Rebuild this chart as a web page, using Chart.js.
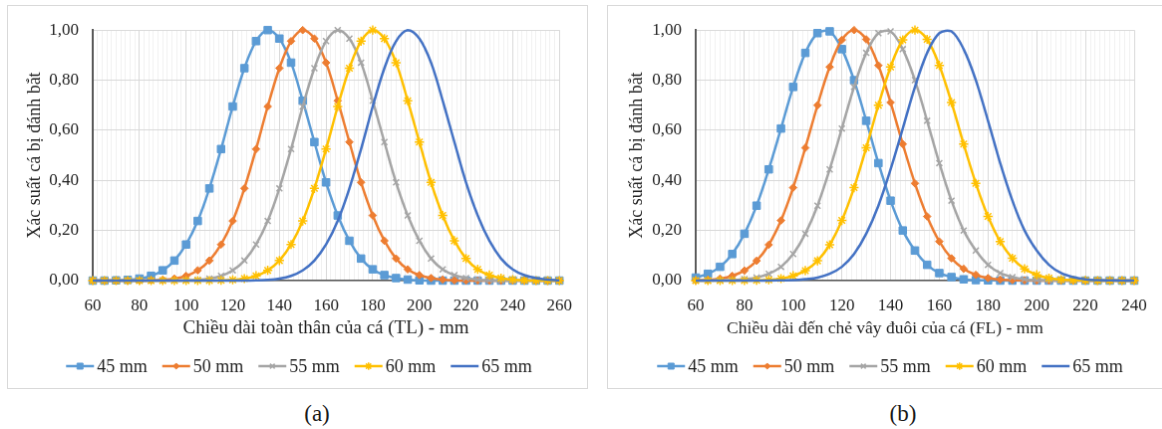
<!DOCTYPE html>
<html>
<head>
<meta charset="utf-8">
<script src="https://cdn.jsdelivr.net/npm/chart.js@4.4.1/dist/chart.umd.min.js"></script>
<style>
  html, body { margin: 0; padding: 0; background: #fff; width: 1162px; height: 429px; overflow: hidden; position: relative; }
  canvas { position: absolute; border: 1px solid #d9d9d9; }
  #chartA { left: 7px; top: 5px; }
  #chartB { left: 607px; top: 5px; }
  .cap { position: absolute; top: 401px; width: 80px; text-align: center; line-height: 24px;
         font: 23px 'Liberation Serif', 'Times New Roman', serif; color: #1a1a1a; }
</style>
</head>
<body>
<canvas id="chartA" width="581" height="384"></canvas>
<canvas id="chartB" width="568" height="384"></canvas>
<div class="cap" style="left:277px">(a)</div>
<div class="cap" style="left:863px">(b)</div>
<script>
// (a) chiều dài toàn thân TL, bước 5 mm
const xA = [60, 65, 70, 75, 80, 85, 90, 95, 100, 105, 110, 115, 120, 125, 130, 135, 140, 145, 150, 155,
  160, 165, 170, 175, 180, 185, 190, 195, 200, 205, 210, 215, 220, 225, 230, 235, 240, 245, 250, 255, 260];
const a45 = [0.000, 0.000, 0.001, 0.003, 0.008, 0.019, 0.041, 0.080, 0.144, 0.238, 0.368, 0.525, 0.695, 0.848, 0.956,
  1.000, 0.966, 0.870, 0.718, 0.553, 0.392, 0.260, 0.159, 0.088, 0.045, 0.022, 0.010, 0.004, 0.001,
  0, 0, 0, 0, 0, 0, 0, 0, 0, 0, 0, 0];
const a50 = [0, 0, 0, 0.000, 0.000, 0.001, 0.003, 0.008, 0.019, 0.041, 0.080, 0.144, 0.238, 0.368, 0.525, 0.695,
  0.848, 0.956, 1.000, 0.966, 0.870, 0.718, 0.553, 0.392, 0.260, 0.159, 0.088, 0.045, 0.022, 0.010, 0.004, 0.001,
  0, 0, 0, 0, 0, 0, 0, 0, 0];
const a55 = [0, 0, 0, 0, 0, 0, 0.000, 0.000, 0.001, 0.003, 0.008, 0.019, 0.041, 0.080, 0.144, 0.238, 0.368, 0.525,
  0.695, 0.848, 0.956, 1.000, 0.966, 0.870, 0.718, 0.553, 0.392, 0.260, 0.159, 0.088, 0.045, 0.022, 0.010, 0.004,
  0.001, 0, 0, 0, 0, 0, 0];
const a60 = [0, 0, 0, 0, 0, 0, 0, 0, 0, 0.000, 0.000, 0.001, 0.003, 0.008, 0.019, 0.041, 0.080, 0.144, 0.238, 0.368,
  0.525, 0.695, 0.848, 0.956, 1.000, 0.966, 0.870, 0.718, 0.553, 0.392, 0.260, 0.159, 0.088, 0.045, 0.022, 0.010,
  0.004, 0.001, 0, 0, 0];
const a65 = [0, 0, 0, 0, 0, 0, 0, 0, 0, 0, 0, 0, 0.000, 0.000, 0.001, 0.003, 0.008, 0.019, 0.041, 0.080, 0.144,
  0.238, 0.368, 0.525, 0.695, 0.848, 0.956, 1.000, 0.966, 0.870, 0.718, 0.553, 0.392, 0.260, 0.159, 0.088, 0.045,
  0.022, 0.010, 0.004, 0.001];

// (b) chiều dài đến chẻ vây đuôi FL, bước 5 mm
const xB = [60, 65, 70, 75, 80, 85, 90, 95, 100, 105, 110, 115, 120, 125, 130, 135, 140, 145, 150, 155,
  160, 165, 170, 175, 180, 185, 190, 195, 200, 205, 210, 215, 220, 225, 230, 235, 240];
const b45 = [0.012, 0.027, 0.055, 0.106, 0.187, 0.299, 0.444, 0.607, 0.773, 0.909, 0.988, 0.995, 0.924, 0.800,
  0.638, 0.469, 0.319, 0.200, 0.120, 0.063, 0.030, 0.014, 0.005, 0.002, 0.001,
  0, 0, 0, 0, 0, 0, 0, 0, 0, 0, 0, 0];
const b50 = [0.001, 0.003, 0.008, 0.019, 0.040, 0.079, 0.143, 0.240, 0.371, 0.530, 0.700, 0.853, 0.961, 1.000,
  0.963, 0.859, 0.711, 0.545, 0.388, 0.256, 0.156, 0.089, 0.047, 0.023, 0.010, 0.004, 0.002, 0.001,
  0, 0, 0, 0, 0, 0, 0, 0, 0];
const b55 = [0.000, 0.000, 0.001, 0.002, 0.006, 0.012, 0.027, 0.055, 0.106, 0.187, 0.299, 0.444, 0.607, 0.773,
  0.909, 0.988, 0.995, 0.924, 0.800, 0.638, 0.469, 0.319, 0.200, 0.120, 0.063, 0.030, 0.014, 0.005, 0.002, 0.001,
  0, 0, 0, 0, 0, 0, 0];
const b60 = [0, 0, 0, 0, 0, 0.001, 0.003, 0.008, 0.019, 0.040, 0.079, 0.143, 0.240, 0.371, 0.530, 0.700, 0.853,
  0.961, 1.000, 0.963, 0.859, 0.711, 0.545, 0.388, 0.256, 0.156, 0.089, 0.047, 0.023, 0.010, 0.004, 0.002, 0.001,
  0, 0, 0, 0];
const b65 = [0, 0, 0, 0, 0, 0.000, 0.000, 0.001, 0.002, 0.006, 0.012, 0.027, 0.055, 0.106, 0.187, 0.299, 0.444,
  0.607, 0.773, 0.909, 0.988, 0.995, 0.924, 0.800, 0.638, 0.469, 0.319, 0.200, 0.120, 0.063, 0.030, 0.014, 0.005,
  0.002, 0.001, 0, 0];

const seriesNames = ["45 mm", "50 mm", "55 mm", "60 mm", "65 mm"];
const yTicks = [0, 0.2, 0.4, 0.6, 0.8, 1.0];

const FONT = "'Liberation Serif', 'Times New Roman', serif";
const TEXT = "#1f1f1f";

// kiểu đường / điểm cho từng cỡ mắt lưới
const styles = [
  { color: "#5B9BD5", pointStyle: "rect", radius: 5.3, pbw: 1 },
  { color: "#ED7D31", pointStyle: "rectRot", radius: 3.8, pbw: 1 },
  { color: "#A5A5A5", pointStyle: "crossRot", radius: 4.2, pbw: 1.5 },
  { color: "#FFC000", pointStyle: "star", radius: 4.6, pbw: 1.5 },
  { color: "#4472C4", pointStyle: false, radius: 0, pbw: 0 }
];

// tiêu đề trục X và chú thích kiểu Excel (đường + điểm)
const extras = {
  id: "extras",
  afterDraw(chart, args, o) {
    const ctx = chart.ctx;
    ctx.save();
    ctx.fillStyle = TEXT;
    ctx.font = o.titleSize + "px " + FONT;
    ctx.textAlign = "center";
    ctx.textBaseline = "middle";
    ctx.fillText(o.xTitle, o.titleX, o.titleY);

    ctx.font = "18px " + FONT;
    const lineLen = 28, gap = 3, itemGap = 15;
    const items = chart.data.datasets.map(ds => ({ ds, w: lineLen + gap + ctx.measureText(ds.label).width }));
    const total = items.reduce((s, it) => s + it.w, 0) + itemGap * (items.length - 1);
    let x = o.legendX - total / 2;
    const y = o.legendY;
    ctx.textAlign = "left";
    items.forEach(({ ds, w }) => {
      ctx.strokeStyle = ds.borderColor;
      ctx.lineWidth = 2.5;
      ctx.beginPath();
      ctx.moveTo(x, y);
      ctx.lineTo(x + lineLen, y);
      ctx.stroke();
      if (ds.pointStyle) {
        ctx.fillStyle = ds.borderColor;
        ctx.lineWidth = ds.pointBorderWidth;
        Chart.helpers.drawPoint(ctx, { pointStyle: ds.pointStyle, rotation: 0, radius: ds.pointRadius * 0.8, borderWidth: ds.pointBorderWidth }, x + lineLen / 2, y);
      }
      ctx.fillStyle = TEXT;
      ctx.fillText(ds.label, x + lineLen + gap, y + 1);
      x += w + itemGap;
    });
    ctx.restore();
  }
};

function makeChart(id, xs, series, xMax, o) {
  const datasets = series.map((vals, i) => ({
    label: seriesNames[i],
    data: xs.map((x, j) => ({ x: x, y: vals[j] })),
    borderColor: styles[i].color,
    backgroundColor: styles[i].color,
    borderWidth: 2.5,
    tension: 0.35,
    pointStyle: styles[i].pointStyle,
    pointRadius: styles[i].radius,
    pointBorderWidth: styles[i].pbw,
    pointBorderColor: styles[i].color,
    pointBackgroundColor: styles[i].color,
    order: series.length - i,
    clip: false
  }));

  return new Chart(document.getElementById(id), {
    type: "line",
    data: { datasets },
    plugins: [extras],
    options: {
      responsive: false,
      animation: false,
      events: [],
      layout: { padding: { left: 0, right: o.padRight, top: 16, bottom: 0 } },
      scales: {
        x: {
          type: "linear",
          min: 60,
          max: xMax,
          ticks: {
            stepSize: 2,
            maxTicksLimit: 200,
            autoSkip: false,
            maxRotation: 0,
            padding: 15,
            color: TEXT,
            font: { family: FONT, size: 17 },
            callback: v => (v % 20 === 0 ? String(v) : "")
          },
          grid: {
            drawTicks: false,
            color: c => (c.tick && c.tick.value % 20 === 0 ? "#d9d9d9" : "#f0f0f0")
          },
          border: { color: "#595959", width: 1.5 },
          afterFit: s => { s.height = 384 - 276; }
        },
        y: {
          min: 0,
          max: 1,
          afterBuildTicks: s => { s.ticks = yTicks.map(v => ({ value: v })); },
          ticks: {
            padding: 14,
            color: TEXT,
            font: { family: FONT, size: 17 },
            callback: v => v.toFixed(2).replace(".", ",")
          },
          grid: { drawTicks: false, color: "#d9d9d9" },
          border: { color: "#595959", width: 2 },
          title: {
            display: true,
            text: "Xác suất cá bị đánh bắt",
            color: TEXT,
            font: { family: FONT, size: 18 },
            padding: { top: o.yTitlePad, bottom: 0 }
          },
          afterFit: s => { s.width = o.left; }
        }
      },
      plugins: {
        legend: { display: false },
        tooltip: { enabled: false },
        extras: { xTitle: o.xTitle, titleSize: o.titleSize, titleX: o.titleX, titleY: 324, legendX: o.legendX, legendY: 362 }
      }
    }
  });
}

makeChart("chartA", xA, [a45, a50, a55, a60, a65], 260, {
  left: 85, padRight: 27, yTitlePad: 16, titleSize: 19,
  xTitle: "Chiều dài toàn thân của cá (TL) - mm", titleX: 319, legendX: 292
});
makeChart("chartB", xB, [b45, b50, b55, b60, b65], 240, {
  left: 88, padRight: 40, yTitlePad: 18, titleSize: 17.5,
  xTitle: "Chiều dài đến chẻ vây đuôi của cá (FL) - mm", titleX: 278, legendX: 283
});
</script>
</body>
</html>
